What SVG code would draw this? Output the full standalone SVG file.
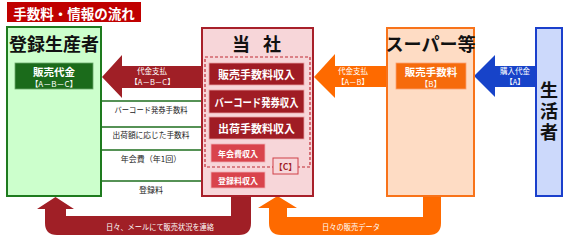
<svg xmlns="http://www.w3.org/2000/svg" width="566" height="237" viewBox="0 0 566 237">
<style>
text{font-family:"Noto Sans CJK JP","Noto Sans",sans-serif;text-anchor:middle;dominant-baseline:central}
.b{font-weight:bold}
.w{fill:#ffffff}
.big{font-size:18px;font-weight:bold;fill:#111111}
.lbl{font-size:8px;fill:#222222}
.al{font-size:7.5px;fill:#ffffff}
.gl{stroke:#1e6e1e;stroke-width:1.6;fill:none;marker-end:url(#ga)}
.item{fill:#a01c24;stroke:#e8a0a4;stroke-width:0.8}
.item2{fill:#d9444c;stroke:#f0b0b4;stroke-width:0.8}
</style>
<defs>
<marker id="ga" viewBox="0 0 6 6" refX="5.5" refY="3" markerWidth="6" markerHeight="6" markerUnits="userSpaceOnUse" orient="auto">
<path d="M0 0 L6 3 L0 6 Z" fill="#1e6e1e"/>
</marker>
</defs>

<g id="title">
<rect x="7" y="2" width="134" height="20" fill="#c00000"/>
<text x="74" y="12.5" class="b w" font-size="13.5">手数料・情報の流れ</text>
</g>

<g id="connectors">
<path d="M102 77 L122 55 L122 66 L203 66 L203 88 L122 88 L122 98 Z" fill="#a01f26"/>
<text x="152" y="70.5" class="al">代金支払</text>
<text x="152.5" y="81.5" class="al">【A－B－C】</text>
<path d="M314 77 L335 54 L335 66 L388 66 L388 87 L335 87 L335 98 Z" fill="#fe6a00"/>
<text x="353" y="70.5" class="al">代金支払</text>
<text x="353" y="81.5" class="al">【A－B】</text>
<path d="M474 76 L495 55 L495 66 L536 66 L536 87 L495 87 L495 97 Z" fill="#1743c9"/>
<text x="515" y="70.5" class="al">購入代金</text>
<text x="515" y="81" class="al">【A】</text>
<line x1="101" y1="101" x2="208" y2="101" class="gl"/>
<line x1="101" y1="127" x2="208" y2="127" class="gl"/>
<line x1="101" y1="150" x2="208" y2="150" class="gl"/>
<line x1="101" y1="181" x2="208" y2="181" class="gl"/>
<text x="151" y="109" class="lbl" textLength="73" lengthAdjust="spacingAndGlyphs">バーコード発券手数料</text>
<text x="151" y="134.5" class="lbl" textLength="77" lengthAdjust="spacingAndGlyphs">出荷額に応じた手数料</text>
<text x="151" y="158" class="lbl">年会費（年1回）</text>
<text x="151" y="189" class="lbl">登録料</text>
<path d="M231 196 L251 196 L251 223 Q251 235 239 235 L57 235 Q45 235 45 223 L45 209 L37 209 L55.5 197 L74 209 L66 209 L66 216 L231 216 Z" fill="#a01f26"/>
<text x="160" y="226" class="al" font-size="8" textLength="108" lengthAdjust="spacingAndGlyphs">日々、メールにて販売状況を連絡</text>
<path d="M423 196 L441 196 L441 223 Q441 235 429 235 L281 235 Q269 235 269 223 L269 208 L258 208 L277.5 196 L297 208 L287 208 L287 217 L423 217 Z" fill="#fe6a00"/>
<text x="351" y="226" class="al" font-size="8" textLength="58" lengthAdjust="spacingAndGlyphs">日々の販売データ</text>
</g>

<g id="producer">
<rect x="7" y="27" width="94" height="169" fill="#ccffcc" stroke="#1e7b1e" stroke-width="2"/>
<text x="54" y="43" class="big">登録生産者</text>
<rect x="15" y="63" width="78" height="26" fill="#1b6b1b" stroke="#6aa86a" stroke-width="0.8"/>
<text x="54" y="71" class="b w" font-size="10.5">販売代金</text>
<text x="54" y="83" class="w" font-size="8">【A－B－C】</text>
</g>

<g id="company">
<rect x="202" y="28" width="111" height="168" fill="#f7d6d9" stroke="#a8202a" stroke-width="2"/>
<text x="241" y="43" class="big">当</text>
<text x="272" y="43" class="big">社</text>
<rect x="205" y="57" width="105" height="110" fill="none" stroke="#c02a34" stroke-width="1.2" stroke-dasharray="3 2"/>
<rect x="209" y="63" width="95" height="22" class="item"/>
<text x="256.5" y="74" class="b w" font-size="11">販売手数料収入</text>
<rect x="209" y="90" width="95" height="23" class="item"/>
<text x="256.5" y="101.5" class="b w" font-size="11" textLength="84" lengthAdjust="spacingAndGlyphs">バーコード発券収入</text>
<rect x="209" y="117" width="95" height="22" class="item"/>
<text x="256.5" y="128" class="b w" font-size="11">出荷手数料収入</text>
<rect x="211" y="144" width="54" height="18" class="item2"/>
<text x="238" y="153" class="b w" font-size="8">年会費収入</text>
<rect x="273" y="158" width="25" height="16" fill="#f7d6d9" stroke="#d04048" stroke-width="1"/>
<text x="285.5" y="166" class="b" font-size="8.5" fill="#a01c24">【C】</text>
<rect x="211" y="172" width="54" height="16" class="item2"/>
<text x="238" y="180" class="b w" font-size="8">登録料収入</text>
</g>

<g id="supermarket">
<rect x="387" y="28" width="87" height="168" fill="#fedcc4" stroke="#f8731a" stroke-width="2"/>
<text x="430.5" y="43" class="big" font-size="17">スーパー等</text>
<rect x="396" y="63" width="70" height="26" fill="#f66b0c" stroke="#fca070" stroke-width="0.8"/>
<text x="431" y="71" class="b w" font-size="10.5">販売手数料</text>
<text x="431" y="83" class="w" font-size="8">【B】</text>
</g>

<g id="consumer">
<rect x="536" y="28" width="26" height="168" fill="#ccd9fb" stroke="#1a3fcc" stroke-width="2"/>
<text x="549" y="113" class="big" font-size="18" writing-mode="vertical-rl" letter-spacing="3">生活者</text>
</g>
</svg>
